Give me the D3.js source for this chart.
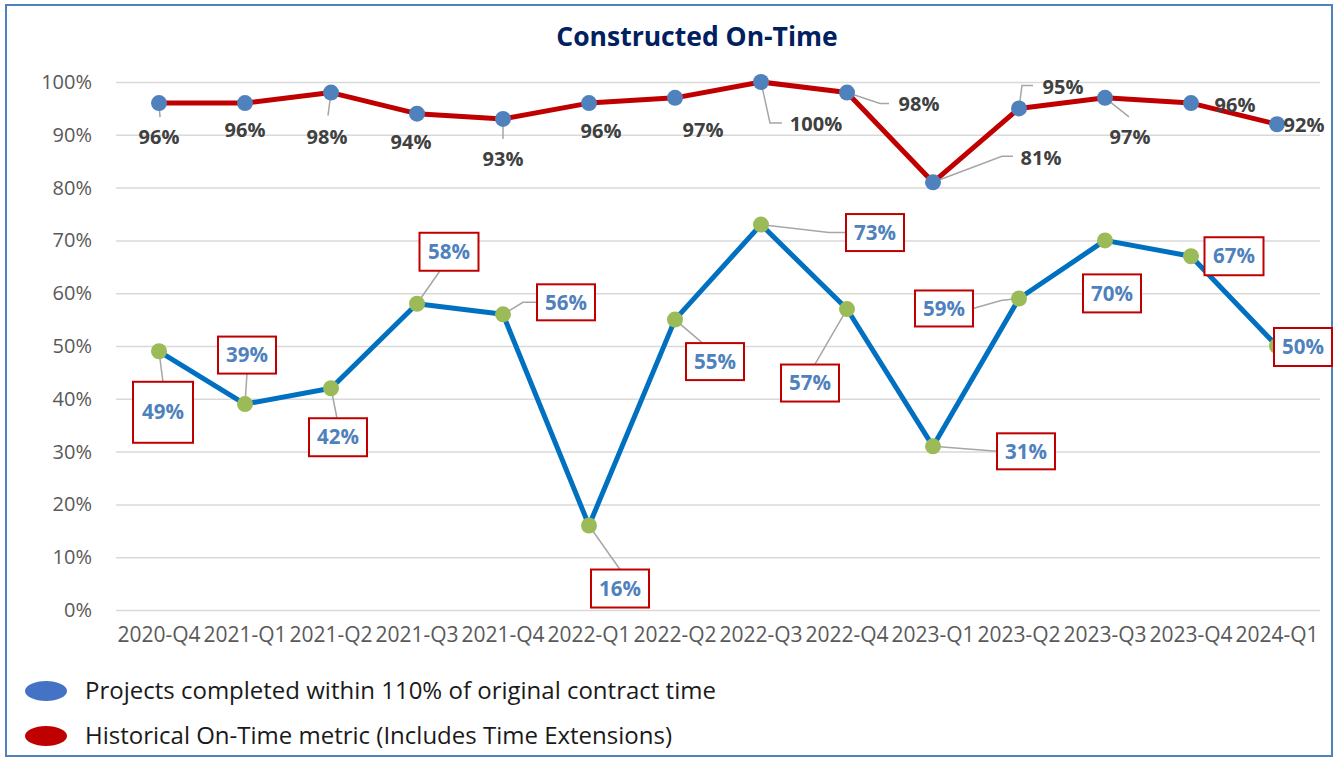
<!DOCTYPE html>
<html>
<head>
<meta charset="utf-8">
<script src="https://cdn.jsdelivr.net/npm/d3@7"></script>
<style>
  body { margin: 0; background: #fff; }
  svg text { font-family: "Open Sans", "Noto Sans", sans-serif; }
</style>
</head>
<body>
<svg id="chart" width="1333" height="760"></svg>
<script>
// quarters on the x axis
const quarters = ["2020-Q4","2021-Q1","2021-Q2","2021-Q3","2021-Q4","2022-Q1","2022-Q2",
  "2022-Q3","2022-Q4","2023-Q1","2023-Q2","2023-Q3","2023-Q4","2024-Q1"]

// Historical On-Time metric (Includes Time Extensions)
const historical = [0.96,0.96,0.98,0.94,0.93,0.96,0.97,1.00,0.98,0.81,0.95,0.97,0.96,0.92]

// Projects completed within 110% of original contract time
const within110 = [0.49,0.39,0.42,0.58,0.56,0.16,0.55,0.73,0.57,0.31,0.59,0.70,0.67,0.50]

const yTicks = [0,0.1,0.2,0.3,0.4,0.5,0.6,0.7,0.8,0.9,1.0]

const legendItems = [
  {name: "Projects completed within 110% of original contract time", color: "#4472c4"},
  {name: "Historical On-Time metric (Includes Time Extensions)", color: "#c00000"}
]

// label placement, relative to each marker (px): [dx, dy, leader polyline]
const histLabelPos = [
  [0,34,[[0,0],[1,14]]], [0,27,null], [-4,44,[[0,0],[-3,23]]], [-6,28,null],
  [0,40,[[0,0],[0,20]]], [12,28,null], [28,32,null], [55,42,[[0,0],[9,41],[21,41]]],
  [72,11,[[0,0],[33,11],[42,11]]], [108,-24,[[0,0],[69,-26],[80,-26]]],
  [44,-21,[[0,0],[3,-23],[14,-23]]], [25,39,[[0,0],[24,19]]], [44,2,null], [27,1,null]
]
// [dx, dy, box w, box h, leader polyline]
const w110LabelPos = [
  [4,61,60,61,[[0,0],[4,31]]], [2,-49,58,37,[[0,0],[2,-31]]], [7,49,58,38,[[0,0],[6,30]]],
  [32,-52,59,38,[[0,0],[23,-33]]], [63,-12,58,36,[[0,0],[20,-12],[34,-12]]],
  [31,63,58,38,[[0,0],[31,44]]], [40,42,58,37,[[0,0],[27,23]]],
  [114,8,58,37,[[0,0],[68,8],[85,8]]], [-37,74,58,37,[[0,0],[-32,55]]],
  [93,5,58,36,[[0,0],[64,5]]], [-75,10,58,36,[[0,0],[-18,2],[-46,10]]],
  [7,53,58,38,null], [43,0,59,38,null], [26,1,58,38,null]
]

const svg = d3.select("#chart")
const pct = d3.format(".0%")

// frame
svg.append("rect")
  .attr("x", 6).attr("y", 5).attr("width", 1326).attr("height", 751)
  .attr("fill", "#fff").attr("stroke", "#4f81bd").attr("stroke-width", 2)

let x = d3.scaleBand().domain(quarters).range([116, 1320])
let y = d3.scaleLinear().domain([0, 1]).range([610, 82])
let cx = d => x(d) + x.bandwidth()/2

// title
svg.append("text")
  .attr("x", 697).attr("y", 46)
  .attr("text-anchor", "middle")
  .attr("font-size", 26.5).attr("font-weight", "bold")
  .attr("fill", "#002060")
  .text("Constructed On-Time")

// gridlines + y labels
let yaxis = d3.axisLeft(y).tickValues(yTicks).tickFormat(pct)
  .tickSize(-(1320 - 116)).tickPadding(24)
let gy = svg.append("g").attr("transform", "translate(116,0)").call(yaxis)
gy.select(".domain").remove()
gy.selectAll(".tick line").attr("stroke", "#d9d9d9").attr("stroke-width", 1.5)
gy.selectAll(".tick text").attr("font-size", 20).attr("fill", "#595959")
  .attr("font-family", "'Open Sans', sans-serif")

// x labels
let xaxis = d3.axisBottom(x).tickSize(0).tickPadding(17)
let gx = svg.append("g").attr("transform", "translate(0,610)").call(xaxis)
gx.select(".domain").remove()
gx.selectAll(".tick text").attr("font-size", 21).attr("fill", "#595959")
  .attr("font-family", "'Open Sans', sans-serif")

let line = d3.line().x((d, i) => cx(quarters[i])).y(d => y(d))

svg.append("path").datum(within110)
  .attr("d", line).attr("fill", "none")
  .attr("stroke", "#0070c0").attr("stroke-width", 5).attr("stroke-linejoin", "round")

svg.append("path").datum(historical)
  .attr("d", line).attr("fill", "none")
  .attr("stroke", "#c00000").attr("stroke-width", 5).attr("stroke-linejoin", "round")

// leader lines
let leader = d3.line()
function drawLeaders(values, layout, idx){
  svg.append("g").selectAll("path")
    .data(values.map((v, i) => ({v: v, i: i, pts: layout[i][idx]})).filter(d => d.pts))
    .enter().append("path")
      .attr("d", d => leader(d.pts.map(p => [cx(quarters[d.i]) + p[0], y(d.v) + p[1]])))
      .attr("fill", "none").attr("stroke", "#a6a6a6").attr("stroke-width", 1.5)
}
drawLeaders(historical, histLabelPos, 2)
drawLeaders(within110, w110LabelPos, 4)

// markers
svg.append("g").selectAll("circle").data(within110).enter().append("circle")
  .attr("cx", (d, i) => cx(quarters[i])).attr("cy", d => y(d)).attr("r", 8)
  .attr("fill", "#9bbb59")
svg.append("g").selectAll("circle").data(historical).enter().append("circle")
  .attr("cx", (d, i) => cx(quarters[i])).attr("cy", d => y(d)).attr("r", 8)
  .attr("fill", "#4f81bd")

// historical labels
svg.append("g").selectAll("text").data(historical).enter().append("text")
  .attr("x", (d, i) => cx(quarters[i]) + histLabelPos[i][0])
  .attr("y", (d, i) => y(d) + histLabelPos[i][1])
  .attr("dy", "0.35em").attr("text-anchor", "middle")
  .attr("font-size", 20).attr("font-weight", "bold").attr("fill", "#404040")
  .text(pct)

// within-110% labels in boxes
let boxes = svg.append("g").selectAll("g").data(within110).enter().append("g")
  .attr("transform", (d, i) => "translate(" + (cx(quarters[i]) + w110LabelPos[i][0]) + "," + (y(d) + w110LabelPos[i][1]) + ")")
boxes.append("rect")
  .attr("x", (d, i) => -w110LabelPos[i][2]/2).attr("y", (d, i) => -w110LabelPos[i][3]/2)
  .attr("width", (d, i) => w110LabelPos[i][2]).attr("height", (d, i) => w110LabelPos[i][3])
  .attr("fill", "#fff").attr("stroke", "#c00000").attr("stroke-width", 2)
boxes.append("text")
  .attr("dy", "0.35em").attr("text-anchor", "middle")
  .attr("font-size", 20.5).attr("font-weight", "bold").attr("fill", "#4f81bd")
  .text(pct)

// legend
let leg = svg.append("g").selectAll("g").data(legendItems).enter().append("g")
  .attr("transform", (d, i) => "translate(0," + (691 + i*45) + ")")
leg.append("ellipse").attr("cx", 46).attr("cy", 0).attr("rx", 21).attr("ry", 10)
  .attr("fill", d => d.color)
leg.append("text").attr("x", 85).attr("dy", "0.35em")
  .attr("font-size", 24).attr("fill", "#1a1a1a")
  .text(d => d.name)
</script>
</body>
</html>
